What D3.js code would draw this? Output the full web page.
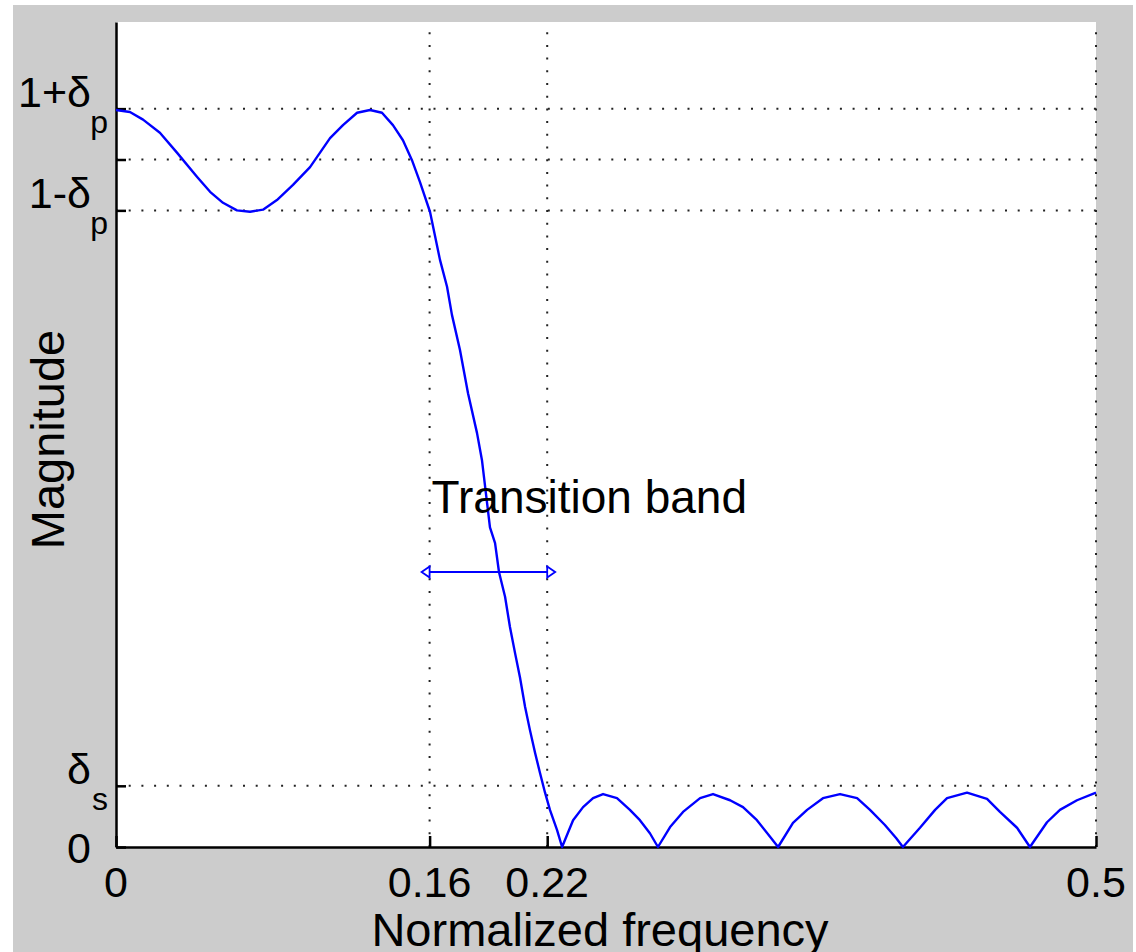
<!DOCTYPE html>
<html>
<head>
<meta charset="utf-8">
<script src="https://cdn.jsdelivr.net/npm/d3@7"></script>
<style>
  html, body { margin: 0; padding: 0; background: #ffffff; }
  svg { display: block; }
  text { font-family: "Liberation Sans", Arial, Helvetica, sans-serif; fill: #000; }
</style>
</head>
<body>
<svg id="chart" width="1136" height="952"></svg>
<script>
// Lowpass filter magnitude response (equiripple design)
const deltaP = 0.074;   // passband ripple
const deltaS = 0.089;   // stopband ripple bound
const passEdge = 0.16;
const stopEdge = 0.22;

const freq = [
  0.0000, 0.0071, 0.0138, 0.0224, 0.0311, 0.0413, 0.0480, 0.0546, 0.0617, 0.0684,
  0.0750, 0.0821, 0.0903, 0.0990, 0.1092, 0.1158, 0.1230, 0.1296, 0.1357, 0.1413,
  0.1464, 0.1510, 0.1551, 0.1602, 0.1653, 0.1689, 0.1714, 0.1755, 0.1796, 0.1842,
  0.1867, 0.1908, 0.1934, 0.1954, 0.1985, 0.2010, 0.2036, 0.2061, 0.2087, 0.2112,
  0.2138, 0.2163, 0.2189, 0.2214, 0.2250, 0.2276, 0.2332, 0.2383, 0.2434, 0.2485,
  0.2556, 0.2622, 0.2673, 0.2724, 0.2765, 0.2827, 0.2893, 0.2980, 0.3046, 0.3133,
  0.3199, 0.3270, 0.3337, 0.3378, 0.3454, 0.3526, 0.3607, 0.3694, 0.3781, 0.3847,
  0.3923, 0.3980, 0.4015, 0.4102, 0.4179, 0.4240, 0.4342, 0.4444, 0.4510, 0.4597,
  0.4663, 0.4750, 0.4816, 0.4903, 0.5000
];
const mag = [
  1.072, 1.069, 1.058, 1.039, 1.010, 0.975, 0.953, 0.937, 0.926, 0.924,
  0.927, 0.941, 0.963, 0.989, 1.031, 1.050, 1.068, 1.072, 1.068, 1.050,
  1.028, 0.999, 0.967, 0.924, 0.854, 0.815, 0.774, 0.723, 0.660, 0.602,
  0.563, 0.465, 0.442, 0.400, 0.364, 0.320, 0.282, 0.247, 0.204, 0.170,
  0.137, 0.108, 0.079, 0.054, 0.025, 0.000, 0.039, 0.058, 0.071, 0.077,
  0.071, 0.054, 0.039, 0.020, 0.000, 0.029, 0.051, 0.071, 0.077, 0.068,
  0.058, 0.039, 0.015, 0.000, 0.035, 0.054, 0.071, 0.077, 0.071, 0.054,
  0.032, 0.013, 0.000, 0.028, 0.054, 0.071, 0.079, 0.070, 0.051, 0.028,
  0.000, 0.036, 0.054, 0.068, 0.079
];

// Axis ticks and their labels (main text + subscript)
const xTickValues = [0, passEdge, stopEdge, 0.5];
const xTickLabels = ["0", "0.16", "0.22", "0.5"];
const yTickValues = [0, deltaS, 1 - deltaP, 1, 1 + deltaP];
const yTickMain = ["0", "\u03B4", "1-\u03B4", "", "1+\u03B4"];
const yTickSub  = ["", "s", "p", "", "p"];

const annotationText = "Transition band";
const annotationLevel = 0.5;
const arrowLevel = 0.4;
const xTitle = "Normalized frequency";
const yTitle = "Magnitude";

// Layout
const W = 1136, H = 952;
const plot = { left: 116, right: 1096, top: 22, bottom: 847 };

const svg = d3.select("#chart");

// Figure background
svg.append("rect").attr("x", 13).attr("y", 5).attr("width", 1120).attr("height", H - 5)
  .attr("fill", "#cccccc");
// Axes background
svg.append("rect").attr("x", plot.left).attr("y", plot.top)
  .attr("width", plot.right - plot.left).attr("height", plot.bottom - plot.top)
  .attr("fill", "#ffffff");

const x = d3.scaleLinear().domain([0, 0.5]).range([plot.left, plot.right]);
const y = d3.scaleLinear().domain([0, 1.2]).range([plot.bottom, plot.top]);

// Dotted grid at every non-zero tick
const grid = svg.append("g")
  .attr("stroke", "#222").attr("stroke-width", 2)
  .attr("stroke-dasharray", "2,10.7").attr("fill", "none");
grid.selectAll("line.v").data(xTickValues.filter(d => d > 0)).join("line")
  .attr("class", "v")
  .attr("x1", d => x(d)).attr("x2", d => x(d))
  .attr("y1", plot.bottom).attr("y2", plot.top);
grid.selectAll("line.h").data(yTickValues.filter(d => d > 0)).join("line")
  .attr("class", "h")
  .attr("x1", plot.left).attr("x2", plot.right)
  .attr("y1", d => y(d)).attr("y2", d => y(d));

// Axes with inward ticks
const xAxis = d3.axisBottom(x).tickValues(xTickValues).tickFormat("")
  .tickSizeInner(-11).tickSizeOuter(0);
const yAxis = d3.axisLeft(y).tickValues(yTickValues).tickFormat("")
  .tickSizeInner(-10).tickSizeOuter(0);

const gx = svg.append("g").attr("transform", `translate(0,${plot.bottom})`).call(xAxis);
const gy = svg.append("g").attr("transform", `translate(${plot.left},0)`).call(yAxis);
[gx, gy].forEach(g => {
  g.select(".domain").attr("stroke", "#000").attr("stroke-width", 2.5);
  g.selectAll(".tick line").attr("stroke", "#000").attr("stroke-width", 2.5);
});

// X tick labels
svg.append("g").selectAll("text").data(xTickValues).join("text")
  .attr("x", d => x(d)).attr("y", plot.bottom + 50)
  .attr("text-anchor", "middle").attr("font-size", 43)
  .text((d, i) => xTickLabels[i]);

// Y tick labels with subscripts
const subWidth = 17;
const yLab = svg.append("g");
yTickValues.forEach((v, i) => {
  if (!yTickMain[i]) return;
  const ty = y(v);
  if (yTickSub[i]) {
    yLab.append("text")
      .attr("x", plot.left - 8).attr("y", ty + 24)
      .attr("text-anchor", "end").attr("font-size", 32)
      .text(yTickSub[i]);
    yLab.append("text")
      .attr("x", plot.left - 8 - subWidth).attr("y", ty - 2)
      .attr("text-anchor", "end").attr("font-size", 43)
      .text(yTickMain[i]);
  } else {
    yLab.append("text")
      .attr("x", plot.left - 8 - subWidth).attr("y", ty + 16)
      .attr("text-anchor", "end").attr("font-size", 43)
      .text(yTickMain[i]);
  }
});

// Axis titles
svg.append("text")
  .attr("x", (plot.left + plot.right) / 2 - 6).attr("y", plot.bottom + 99)
  .attr("text-anchor", "middle").attr("font-size", 47)
  .text(xTitle);
svg.append("text")
  .attr("transform", `translate(64,${(plot.top + plot.bottom) / 2 + 5}) rotate(-90)`)
  .attr("text-anchor", "middle").attr("font-size", 47)
  .text(yTitle);

// Magnitude response curve
const points = freq.map((f, i) => [f, mag[i]]);
svg.append("path").datum(points)
  .attr("fill", "none").attr("stroke", "#0000ff").attr("stroke-width", 2.4)
  .attr("stroke-linejoin", "round")
  .attr("d", d3.line().x(d => x(d[0])).y(d => y(d[1])));

// Transition band annotation
svg.append("text")
  .attr("x", x(passEdge) + 2).attr("y", y(annotationLevel)).attr("dy", "0.22em")
  .attr("font-size", 46)
  .text(annotationText);

const ay = y(arrowLevel);
const arrow = svg.append("g").attr("stroke", "#0000ff").attr("stroke-width", 2.2);
arrow.append("line")
  .attr("x1", x(passEdge)).attr("x2", x(stopEdge))
  .attr("y1", ay).attr("y2", ay);
[[x(passEdge), -1], [x(stopEdge), 1]].forEach(([bx, dir]) => {
  arrow.append("path")
    .attr("fill", "#ffffff").attr("stroke-width", 1.8)
    .attr("d", `M${bx},${ay - 5.5} L${bx + dir * 8},${ay} L${bx},${ay + 5.5} Z`);
});
</script>
</body>
</html>
